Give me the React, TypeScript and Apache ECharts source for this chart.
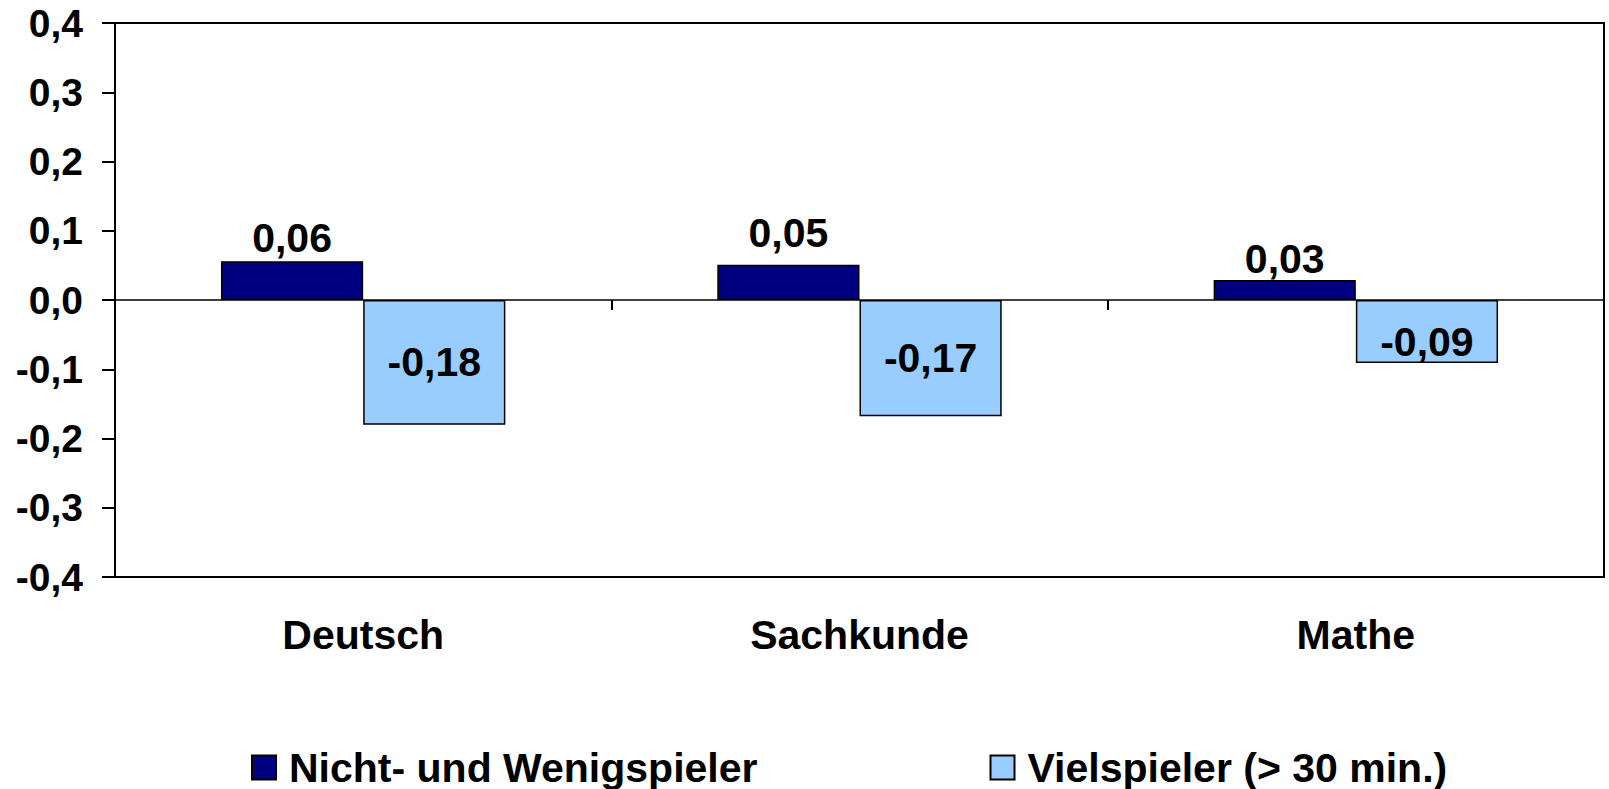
import React, { useEffect, useRef } from "react";
import * as echarts from "echarts";

const categories = ["Deutsch", "Sachkunde", "Mathe"];
const seriesNames = ["Nicht- und Wenigspieler", "Vielspieler (> 30 min.)"];
const wenigValues = [0.056, 0.051, 0.029];
const vielValues = [-0.18, -0.168, -0.091];
const yMin = -0.4;
const yMax = 0.4;
const yStep = 0.1;

const FONT = "'Liberation Sans', Arial, sans-serif";
const fmt2 = (v: number) => v.toFixed(2).replace(".", ",");
const fmt1 = (v: number) => (Math.abs(v) < 1e-9 ? "0,0" : v.toFixed(1).replace(".", ","));

export default function App() {
  const ref = useRef<HTMLDivElement>(null);
  useEffect(() => {
    if (!ref.current) return;
    const chart = echarts.init(ref.current, undefined, { renderer: "svg" });
    const textBase = { fontFamily: FONT, fontWeight: "bold" as const, color: "#000" };
    const wenigOffsets = [[0, 0], [0, -8], [0, 3]];
    chart.setOption({
      animation: false,
      backgroundColor: "#fff",
      grid: {
        left: 115,
        right: 5,
        top: 23,
        bottom: 212,
        show: true,
        borderColor: "#000",
        borderWidth: 2,
        backgroundColor: "transparent",
      },
      legend: {
        left: 251,
        top: 747,
        padding: 0,
        itemWidth: 24,
        itemHeight: 24,
        itemGap: 232,
        icon: "rect",
        textStyle: { ...textBase, fontSize: 41, lineHeight: 40, padding: [0, 0, 0, 8] },
        data: seriesNames,
      },
      xAxis: [
        {
          type: "category",
          data: categories,
          axisLine: { onZero: true, lineStyle: { color: "#000", width: 1.5 } },
          axisTick: { show: true, inside: false, length: 10, lineStyle: { color: "#000", width: 2 } },
          axisLabel: { show: false },
        },
        {
          type: "category",
          data: categories,
          position: "bottom",
          axisLine: { show: false, onZero: false },
          axisTick: { show: false },
          axisLabel: { ...textBase, fontSize: 41, margin: 37 },
        },
      ],
      yAxis: {
        type: "value",
        min: yMin,
        max: yMax,
        interval: yStep,
        axisLine: { show: true, lineStyle: { color: "#000", width: 2 } },
        axisTick: { show: true, length: 13, lineStyle: { color: "#000", width: 2 } },
        splitLine: { show: false },
        axisLabel: { ...textBase, fontSize: 39, margin: 32, formatter: fmt1 },
      },
      series: [
        {
          name: seriesNames[0],
          type: "bar",
          xAxisIndex: 0,
          data: wenigValues.map((v, i) => ({ value: v, label: { offset: wenigOffsets[i] } })),
          barGap: "0%",
          barCategoryGap: "42.7%",
          itemStyle: { color: "#000080", borderColor: "#000", borderWidth: 1.5 },
          label: {
            show: true,
            position: "top",
            distance: 3,
            ...textBase,
            fontSize: 41,
            formatter: (p: any) => fmt2(p.value),
          },
        },
        {
          name: seriesNames[1],
          type: "bar",
          xAxisIndex: 0,
          data: vielValues.map((v, i) =>
            i === 2 ? { value: v, label: { offset: [0, 10] } } : v
          ),
          itemStyle: { color: "#99CCFF", borderColor: "#000", borderWidth: 1.5 },
          label: {
            show: true,
            position: "inside",
            ...textBase,
            fontSize: 41,
            formatter: (p: any) => fmt2(p.value),
          },
        },
      ],
    });
    return () => chart.dispose();
  }, []);
  return (
    <div
      ref={ref}
      style={{ position: "fixed", left: 0, top: 0, width: 1609, height: 789 }}
    />
  );
}
